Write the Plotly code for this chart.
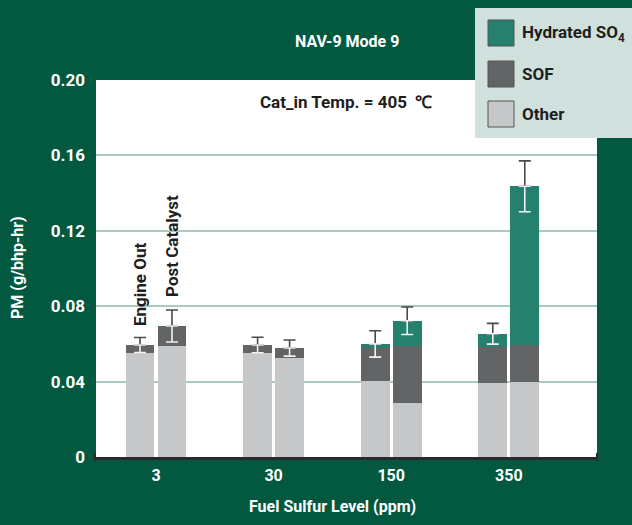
import plotly.graph_objects as go

# ---- data ----
categories = ["3", "30", "150", "350"]
series_names = ["Hydrated SO<sub>4</sub>", "SOF", "Other"]
bar_labels = ["Engine Out", "Post Catalyst"]

other_engine = [0.0553, 0.0552, 0.0404, 0.0394]
other_post = [0.0589, 0.0527, 0.0287, 0.0399]
sof_engine = [0.0041, 0.0042, 0.0176, 0.0191]
sof_post = [0.0106, 0.0051, 0.0303, 0.0197]
so4_engine = [0.0, 0.0, 0.0020, 0.0069]
so4_post = [0.0, 0.0, 0.0133, 0.0840]
err_engine = [0.0040, 0.0041, 0.0070, 0.0055]
err_post = [0.0085, 0.0043, 0.0073, 0.0135]

y_ticks = [0, 0.04, 0.08, 0.12, 0.16, 0.20]
y_ticktext = ["0", "0.04", "0.08", "0.12", "0.16", "0.20"]

# ---- styling ----
BG = "#02593f"
C_SO4 = "#25806e"
C_SOF = "#636466"
C_OTH = "#c6c7c9"
FONT = "Roboto, Liberation Sans, sans-serif"
DARK = "#1e1e1e"
W, H = 632, 525
L, R, T, B = 96, 35, 80, 68
OFF = 0.136
BW = 0.246

n = len(categories)
x_eng = [i - OFF for i in range(n)]
x_post = [i + OFF for i in range(n)]
xs = x_eng + x_post

fig = go.Figure()
fig.add_trace(go.Bar(x=xs, y=other_engine + other_post, width=BW, marker=dict(color=C_OTH, line=dict(width=0)), name="Other", showlegend=False))
fig.add_trace(go.Bar(x=xs, y=sof_engine + sof_post, width=BW, marker=dict(color=C_SOF, line=dict(width=0)), name="SOF", showlegend=False))
fig.add_trace(go.Bar(x=xs, y=so4_engine + so4_post, width=BW, marker=dict(color=C_SO4, line=dict(width=0)), name="Hydrated SO4", showlegend=False))

tot_eng = [a + b + c for a, b, c in zip(other_engine, sof_engine, so4_engine)]
tot_post = [a + b + c for a, b, c in zip(other_post, sof_post, so4_post)]
tots = tot_eng + tot_post
errs = err_engine + err_post
zeros = [0] * len(errs)

fig.add_trace(go.Scatter(x=xs, y=tots, mode="markers", marker=dict(opacity=0, size=1), showlegend=False, hoverinfo="skip",
                         error_y=dict(type="data", symmetric=False, array=errs, arrayminus=zeros, color="#4a4a4a", thickness=1.6, width=6)))
fig.add_trace(go.Scatter(x=xs, y=tots, mode="markers", marker=dict(opacity=0, size=1), showlegend=False, hoverinfo="skip",
                         error_y=dict(type="data", symmetric=False, array=zeros, arrayminus=errs, color="#f2f2f2", thickness=1.6, width=6)))

annotations = []
shapes = []

# rotated bar labels above the first category
annotations.append(dict(x=x_eng[0], y=tot_eng[0] + err_engine[0], xref="x", yref="y", text="<b>" + bar_labels[0] + "</b>",
                        textangle=-90, showarrow=False, xanchor="center", yanchor="bottom", yshift=10,
                        font=dict(family=FONT, size=17, color=DARK)))
annotations.append(dict(x=x_post[0], y=tot_post[0] + err_post[0], xref="x", yref="y", text="<b>" + bar_labels[1] + "</b>",
                        textangle=-90, showarrow=False, xanchor="center", yanchor="bottom", yshift=11,
                        font=dict(family=FONT, size=17, color=DARK)))

def px2x(px):
    return (px - L) / (W - L - R)

def px2y(py):
    return (H - B - py) / (H - T - B)

def centered(px, py, text, size, color, angle=0):
    return dict(x=px2x(px), y=px2y(py), xref="paper", yref="paper", text=text, showarrow=False,
                xanchor="center", yanchor="middle", textangle=angle, font=dict(family=FONT, size=size, color=color))

annotations.append(centered(347, 42, "<b>NAV-9 Mode 9</b>", 16, "white"))
annotations.append(centered(346, 102, "<b>Cat_in Temp. = 405  ℃</b>", 17, DARK))
annotations.append(centered(332, 506, "<b>Fuel Sulfur Level (ppm)</b>", 16, "white"))
annotations.append(centered(17, 268, "<b>PM (g/bhp-hr)</b>", 16, "white", -90))

# legend box
shapes.append(dict(type="rect", xref="paper", yref="paper", x0=px2x(475), x1=px2x(640), y0=px2y(138), y1=px2y(8),
                   fillcolor="#d0e0dc", line=dict(width=0), layer="above"))
leg_colors = [C_SO4, C_SOF, C_OTH]
leg_rows = [33, 74, 114]
for name, col, ry in zip(series_names, leg_colors, leg_rows):
    shapes.append(dict(type="rect", xref="paper", yref="paper", x0=px2x(488), x1=px2x(514), y0=px2y(ry + 13), y1=px2y(ry - 13),
                       fillcolor=col, line=dict(width=1, color="#555555"), layer="above"))
    annotations.append(dict(x=px2x(520), y=px2y(ry), xref="paper", yref="paper", text="<b>" + name + "</b>", showarrow=False,
                            xanchor="left", yanchor="middle", font=dict(family=FONT, size=17, color=DARK)))

# axis end caps
for px in (95, 597):
    shapes.append(dict(type="line", xref="paper", yref="paper", x0=px2x(px), x1=px2x(px), y0=px2y(453), y1=px2y(461),
                       line=dict(color="#2a2a2a", width=2)))

fig.update_layout(
    width=W, height=H, margin=dict(l=L, r=R, t=T, b=B),
    paper_bgcolor=BG, plot_bgcolor="white", barmode="stack", bargap=0,
    font=dict(family=FONT), showlegend=False,
    annotations=annotations, shapes=shapes,
    xaxis=dict(range=[-0.51, 3.75], tickvals=list(range(n)), ticktext=["<b>" + c + "</b>" for c in categories],
               showgrid=False, zeroline=False, showline=True, linecolor="#2a2a2a", linewidth=2.5, ticks="",
               ticklabelstandoff=2, tickfont=dict(family=FONT, size=16, color="white")),
    yaxis=dict(range=[0, 0.20], tickvals=y_ticks, ticktext=["<b>" + t + "</b>" for t in y_ticktext], showgrid=True,
               gridcolor="#a9cac0", gridwidth=1.5, zeroline=False, showline=False, ticks="", ticklabelstandoff=10,
               tickfont=dict(family=FONT, size=17, color="white")),
)

fig.write_html("out.html", config={"displayModeBar": False},
               post_script="document.body.style.margin='0';")
